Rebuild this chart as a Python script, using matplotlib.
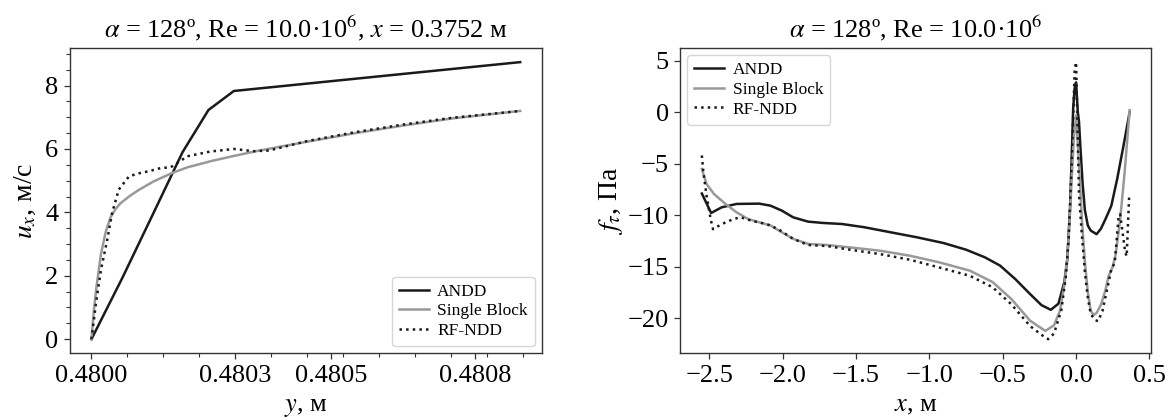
import numpy as np
import matplotlib
matplotlib.use("Agg")
import matplotlib.pyplot as plt
from matplotlib.ticker import MultipleLocator, FixedLocator, FixedFormatter

plt.rcParams['font.family'] = ['Liberation Serif', 'DejaVu Serif']
plt.rcParams['mathtext.fontset'] = 'stix'

# ---------------- Left panel data (y in m, u_x in m/s) ----------------
y0 = 0.48
andd_du = [0, 0.65, 1.3, 1.9, 2.44, 2.97, 8.94]          # (y - 0.48) * 1e4
andd_u = [0, 1.95, 4.0, 5.9, 7.23, 7.83, 8.74]

single_du = [0, 0.05, 0.1, 0.2, 0.3, 0.4, 0.5, 0.6, 0.8, 1.0, 1.3, 1.68, 2.0, 2.5,
             3.0, 3.5, 4.5, 5.5, 6.5, 7.5, 8.94]
single_u = [0, 0.9, 1.6, 2.7, 3.4, 3.85, 4.1, 4.28, 4.52, 4.72, 4.98, 5.24, 5.42, 5.62,
            5.79, 5.95, 6.23, 6.5, 6.74, 6.96, 7.2]

rf_du = [0, 0.1, 0.2, 0.33, 0.43, 0.57, 0.78, 0.95, 1.2, 1.45, 1.65, 2.0, 2.48, 2.97,
         3.38, 3.7, 4.5, 5.5, 6.5, 7.5, 8.94]
rf_u = [0, 1.2, 2.2, 3.14, 3.98, 4.72, 5.13, 5.22, 5.3, 5.4, 5.42, 5.77, 5.92, 6.0,
        5.93, 5.95, 6.25, 6.53, 6.77, 6.98, 7.2]

left_xticks = [0.4800, 0.4803, 0.4805, 0.4808]
left_yticks = [0, 2, 4, 6, 8]

# ---------------- Right panel data (x in m, f_tau in Pa) ----------------
andd_x = [-2.55, -2.487, -2.415, -2.313, -2.159, -2.082, -2.005, -1.928, -1.826, -1.723,
          -1.595, -1.441, -1.262, -1.082, -0.903, -0.749, -0.621, -0.518, -0.415, -0.313,
          -0.236, -0.172, -0.12, -0.08, -0.06, -0.04, -0.03, -0.02, -0.01, 0.0,
          0.012, 0.02, 0.03, 0.045, 0.06, 0.08, 0.1, 0.14, 0.17, 0.2, 0.24, 0.28,
          0.32, 0.365]
andd_f = [-7.9, -9.79, -9.24, -8.91, -8.88, -9.08, -9.56, -10.21, -10.63, -10.76,
          -10.86, -11.18, -11.67, -12.16, -12.71, -13.36, -14.1, -14.9, -16.2, -17.67,
          -18.74, -19.2, -18.6, -16.5, -14.3, -9.0, -4.5, 0.3, 2.3, 2.9,
          0.0, -0.9, -3.5, -7.0, -9.5, -11.0, -11.5, -11.85, -11.3, -10.4, -9.1, -6.5,
          -3.5, 0.0]

single_x = [-2.55, -2.518, -2.467, -2.39, -2.313, -2.236, -2.159, -2.082, -2.005, -1.928,
            -1.826, -1.697, -1.544, -1.338, -1.133, -0.928, -0.723, -0.569, -0.441, -0.313,
            -0.21, -0.15, -0.11, -0.08, -0.06, -0.04, -0.03, -0.015, 0.0,
            0.02, 0.04, 0.06, 0.08, 0.1, 0.12, 0.14, 0.17, 0.2, 0.22, 0.25, 0.27,
            0.3, 0.33, 0.365]
single_f = [-5.52, -6.98, -7.95, -8.9, -9.73, -10.37, -10.7, -11.0, -11.67, -12.3,
            -12.8, -12.9, -13.13, -13.45, -13.94, -14.6, -15.4, -16.5, -18.15, -20.26,
            -21.25, -20.7, -19.3, -16.8, -14.3, -9.5, -6.5, -2.5, -0.3,
            -5.0, -10.5, -14.5, -17.5, -19.3, -19.7, -19.5, -18.7, -17.3, -16.0, -15.0, -13.8,
            -10.5, -6.0, 0.2]

rf_x = [-2.55, -2.54, -2.518, -2.49, -2.474, -2.415, -2.338, -2.287, -2.21, -2.108,
        -2.03, -1.928, -1.826, -1.697, -1.544, -1.338, -1.133, -0.928, -0.723, -0.569,
        -0.441, -0.313, -0.21, -0.19, -0.15, -0.1, -0.07, -0.05, -0.03, -0.01, 0.0,
        0.01, 0.02, 0.04, 0.06, 0.08, 0.1, 0.13, 0.15, 0.18, 0.21, 0.24, 0.264,
        0.29, 0.30, 0.32, 0.335, 0.345, 0.352, 0.362]
rf_f = [-4.2, -5.8, -8.1, -10.4, -11.36, -10.87, -10.4, -10.2, -10.55, -10.87,
        -11.36, -12.3, -12.9, -13.0, -13.35, -13.78, -14.33, -15.1, -15.9, -17.0,
        -18.66, -20.78, -21.9, -22.05, -21.5, -19.2, -16.0, -12.2, -5.0, 3.9, 4.87,
        -1.5, -8.0, -12.0, -15.5, -18.0, -19.6, -20.2, -20.3, -19.3, -17.3, -15.3, -14.6,
        -10.1, -9.9, -12.0, -13.6, -14.0, -11.5, -8.1]

right_xticks = [-2.5, -2.0, -1.5, -1.0, -0.5, 0.0, 0.5]
right_yticks = [5, 0, -5, -10, -15, -20]

labels = ['ANDD', 'Single Block', 'RF-NDD']
colors = ['#1a1a1a', '#999999', '#1a1a1a']
styles = ['-', '-', ':']

fig = plt.figure(figsize=(11.67, 4.18), dpi=100)
ax1 = fig.add_axes([0.060, 0.1555, 0.4041, 0.729])
ax2 = fig.add_axes([0.5831, 0.1555, 0.4032, 0.729])

lw = 1.8
left_sets = [(andd_du, andd_u), (single_du, single_u), (rf_du, rf_u)]
for (du, u), lab, c, ls in zip(left_sets, labels, colors, styles):
    yy = y0 + np.asarray(du) * 1e-4
    ax1.plot(yy, u, color=c, ls=ls, lw=lw, label=lab)

right_sets = [(andd_x, andd_f), (single_x, single_f), (rf_x, rf_f)]
for (xx, ff), lab, c, ls in zip(right_sets, labels, colors, styles):
    ax2.plot(xx, ff, color=c, ls=ls, lw=lw, label=lab)

tfs = 19
for ax in (ax1, ax2):
    for sp in ax.spines.values():
        sp.set_color('#333333')
        sp.set_linewidth(1.0)
    ax.tick_params(which='major', direction='out', length=4.5, width=0.9,
                   color='#333333', labelsize=tfs, pad=4)
    ax.tick_params(which='minor', direction='out', length=3, width=0.8, color='#333333')

ax1.xaxis.set_major_locator(FixedLocator(left_xticks))
ax1.xaxis.set_major_formatter(FixedFormatter(['%.4f' % v for v in left_xticks]))
ax1.xaxis.set_minor_locator(MultipleLocator(0.000075))
ax1.set_yticks(left_yticks)
ax1.yaxis.set_minor_locator(MultipleLocator(0.5))

ax2.set_xticks(right_xticks)
ax2.set_xticklabels(['%.1f' % v if v >= 0 else '\u2212%.1f' % -v for v in right_xticks])
ax2.set_yticks(right_yticks)

ax1.set_title(r'$\alpha$ = 128º, Re = 10.0·10$^6$, $x$ = 0.3752 м', fontsize=19, pad=8)
ax2.set_title(r'$\alpha$ = 128º, Re = 10.0·10$^6$', fontsize=19, pad=8)
ax1.set_xlabel(r'$y$, м', fontsize=19, labelpad=7)
ax1.set_ylabel(r'$u_x$, м/с', fontsize=20, labelpad=5)
ax2.set_xlabel(r'$x$, м', fontsize=19, labelpad=6)
ax2.set_ylabel(r'$f_\tau$, Па', fontsize=20, labelpad=2)

legkw = dict(fontsize=12.5, handlelength=1.7, handletextpad=0.5, labelspacing=0.2,
             borderaxespad=0.4, borderpad=0.4)
ax1.legend(loc='lower right', **legkw)
ax2.legend(loc='upper left', **legkw)

fig.savefig('out.png', dpi=100)
